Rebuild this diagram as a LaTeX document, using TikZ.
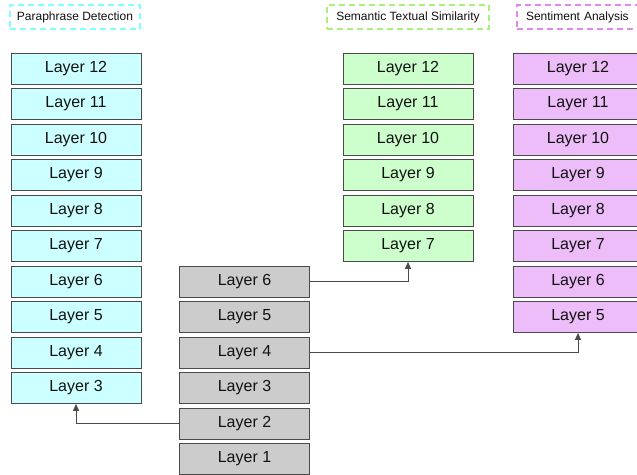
\documentclass[tikz,border=0pt]{standalone}
\usepackage{fontspec}
\setmainfont{Liberation Sans}
\usetikzlibrary{arrows.meta}
\definecolor{cyanfill}{HTML}{CCFFFF}
\definecolor{greenfill}{HTML}{CCFFCC}
\definecolor{purplefill}{HTML}{EDBDF9}
\definecolor{grayfill}{HTML}{CCCCCC}
\definecolor{boxline}{HTML}{4A4A4A}
\definecolor{cyandash}{HTML}{7FFFFF}
\definecolor{greendash}{HTML}{A6F27A}
\definecolor{purpledash}{HTML}{E486F2}
\definecolor{txt}{HTML}{111111}
\tikzset{
  layerbox/.style={draw=boxline, line width=0.8pt, minimum width=130pt, minimum height=31pt,
    inner sep=0pt, font=\fontsize{16}{18}\selectfont, text=txt},
  cyanbox/.style={layerbox, fill=cyanfill},
  greenbox/.style={layerbox, fill=greenfill},
  purplebox/.style={layerbox, fill=purplefill},
  graybox/.style={layerbox, fill=grayfill},
  titlebox/.style={dashed, dash pattern=on 6pt off 4pt, line width=1.2pt, minimum height=24pt,
    inner sep=0pt, font=\fontsize{12}{14}\selectfont, text=txt},
  conn/.style={draw=boxline, line width=0.8pt, -{Triangle[length=7pt,width=6pt]}}
}
\begin{document}
\begin{tikzpicture}[x=1pt,y=-1pt]
\useasboundingbox (0,0) rectangle (637,474);
\fill[white] (0,0) rectangle (637,474);
% titles
\node[titlebox, draw=cyandash, minimum width=130pt] (t1) at (75,17) {Paraphrase Detection};
\node[titlebox, draw=greendash, minimum width=162pt] (t2) at (408,17) {Semantic Textual Similarity};
\node[titlebox, draw=purpledash, minimum width=130pt, text width=112pt, align=left] (t3) at (582,17) {\hspace*{0pt}Sentiment Analysis};
% cyan column
\foreach \n in {3,...,12}{
  \node[cyanbox] (c\n) at (76,{388-(\n-3)*35.5}) {Layer \n};
}
% gray column
\foreach \n in {1,...,6}{
  \node[graybox] (g\n) at (244.5,{388-(\n-3)*35.5}) {Layer \n};
}
% green column
\foreach \n in {7,...,12}{
  \node[greenbox] (s\n) at (408,{388-(\n-3)*35.5}) {Layer \n};
}
% purple column
\foreach \n in {5,...,12}{
  \node[purplebox] (p\n) at (578,{388-(\n-3)*35.5}) {Layer \n};
}
% connectors
\draw[conn] (g2.west) -| (c3.south);
\draw[conn] (g6.east) -| (s7.south);
\draw[conn] (g4.east) -| (p5.south);
\end{tikzpicture}
\end{document}
